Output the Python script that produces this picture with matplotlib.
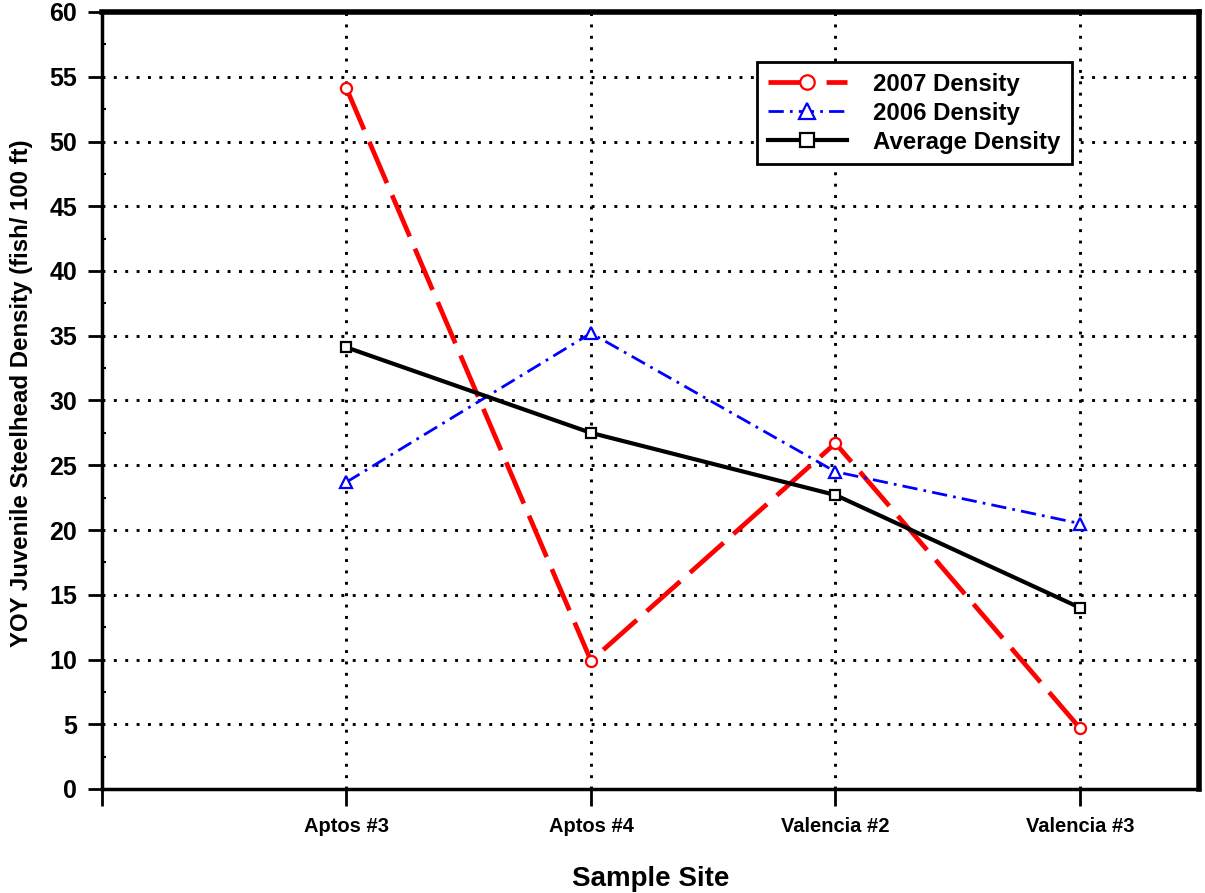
import matplotlib
matplotlib.use("Agg")
import matplotlib.pyplot as plt
from matplotlib.ticker import MultipleLocator

plt.rcParams['font.family'] = ['Liberation Sans', 'DejaVu Sans']
plt.rcParams['font.weight'] = 'bold'

sites = ["Aptos #3", "Aptos #4", "Valencia #2", "Valencia #3"]
density_2007 = [54.1, 9.9, 26.7, 4.7]
density_2006 = [23.7, 35.2, 24.5, 20.5]
density_avg = [34.1, 27.5, 22.7, 14.0]
yticks = list(range(0, 61, 5))

fig = plt.figure(figsize=(12.05, 8.93), dpi=100)
ax = fig.add_axes([102/1205, 1-789/893, (1199-102)/1205, (789-12)/893])

x = [1, 2, 3, 4]
ax.plot(x, density_2007, color='red', lw=3.4, dashes=(9.5, 2.8), marker='o', ms=8,
        mfc='white', mec='red', mew=1.6, label='2007 Density', zorder=4)
ax.plot(x, density_2006, color='blue', lw=2.0, dashes=(5.5, 2.2, 1, 2.2), marker='^', ms=8.5,
        mfc='white', mec='blue', mew=1.6, label='2006 Density', zorder=4)
ax.plot(x, density_avg, color='black', lw=3.0, marker='s', ms=7.5,
        mfc='white', mec='black', mew=1.6, label='Average Density', zorder=5)

ax.set_xlim(0, 4.487)
ax.set_ylim(0, 60)
ax.set_yticks(yticks)
ax.set_yticklabels([str(v) for v in yticks], fontsize=18, fontweight='bold')
ax.yaxis.set_minor_locator(MultipleLocator(2.5))
ax.set_xticks([0, 1, 2, 3, 4])
ax.set_xticklabels([''] + sites, fontsize=14.5, fontweight='bold')

ax.tick_params(axis='y', which='major', direction='out', length=10, width=2, pad=8)
ax.tick_params(axis='y', which='minor', direction='in', length=3, width=1.5)
ax.tick_params(axis='x', which='major', direction='out', length=12, width=2, pad=8)

# grid
for v in yticks[1:]:
    ax.axhline(v, color='black', lw=2.1, ls=(0, (1, 2.9)), zorder=1)
for xi in x:
    ax.axvline(xi, color='black', lw=2.1, ls=(0, (1, 2.9)), zorder=1)

for s in ['left', 'bottom']:
    ax.spines[s].set_linewidth(2.5)
for s in ['top', 'right']:
    ax.spines[s].set_linewidth(4)

ax.set_ylabel('YOY Juvenile Steelhead Density (fish/ 100 ft)', fontsize=17.3,
              fontweight='bold')
ax.yaxis.set_label_coords(-0.063, 0.51)
ax.set_xlabel('Sample Site', fontsize=20, fontweight='bold', labelpad=22)

leg = ax.legend(loc='upper left', bbox_to_anchor=(0.597, 0.936),
                frameon=True, fancybox=False, edgecolor='black', framealpha=1,
                handlelength=3.3, borderpad=0.45, labelspacing=0.25, handletextpad=1.1,
                borderaxespad=0, markerscale=1.3, prop={'size': 17.3, 'weight': 'bold'})
leg.get_frame().set_linewidth(2)
leg.set_zorder(10)

fig.savefig('out.png', dpi=100)
